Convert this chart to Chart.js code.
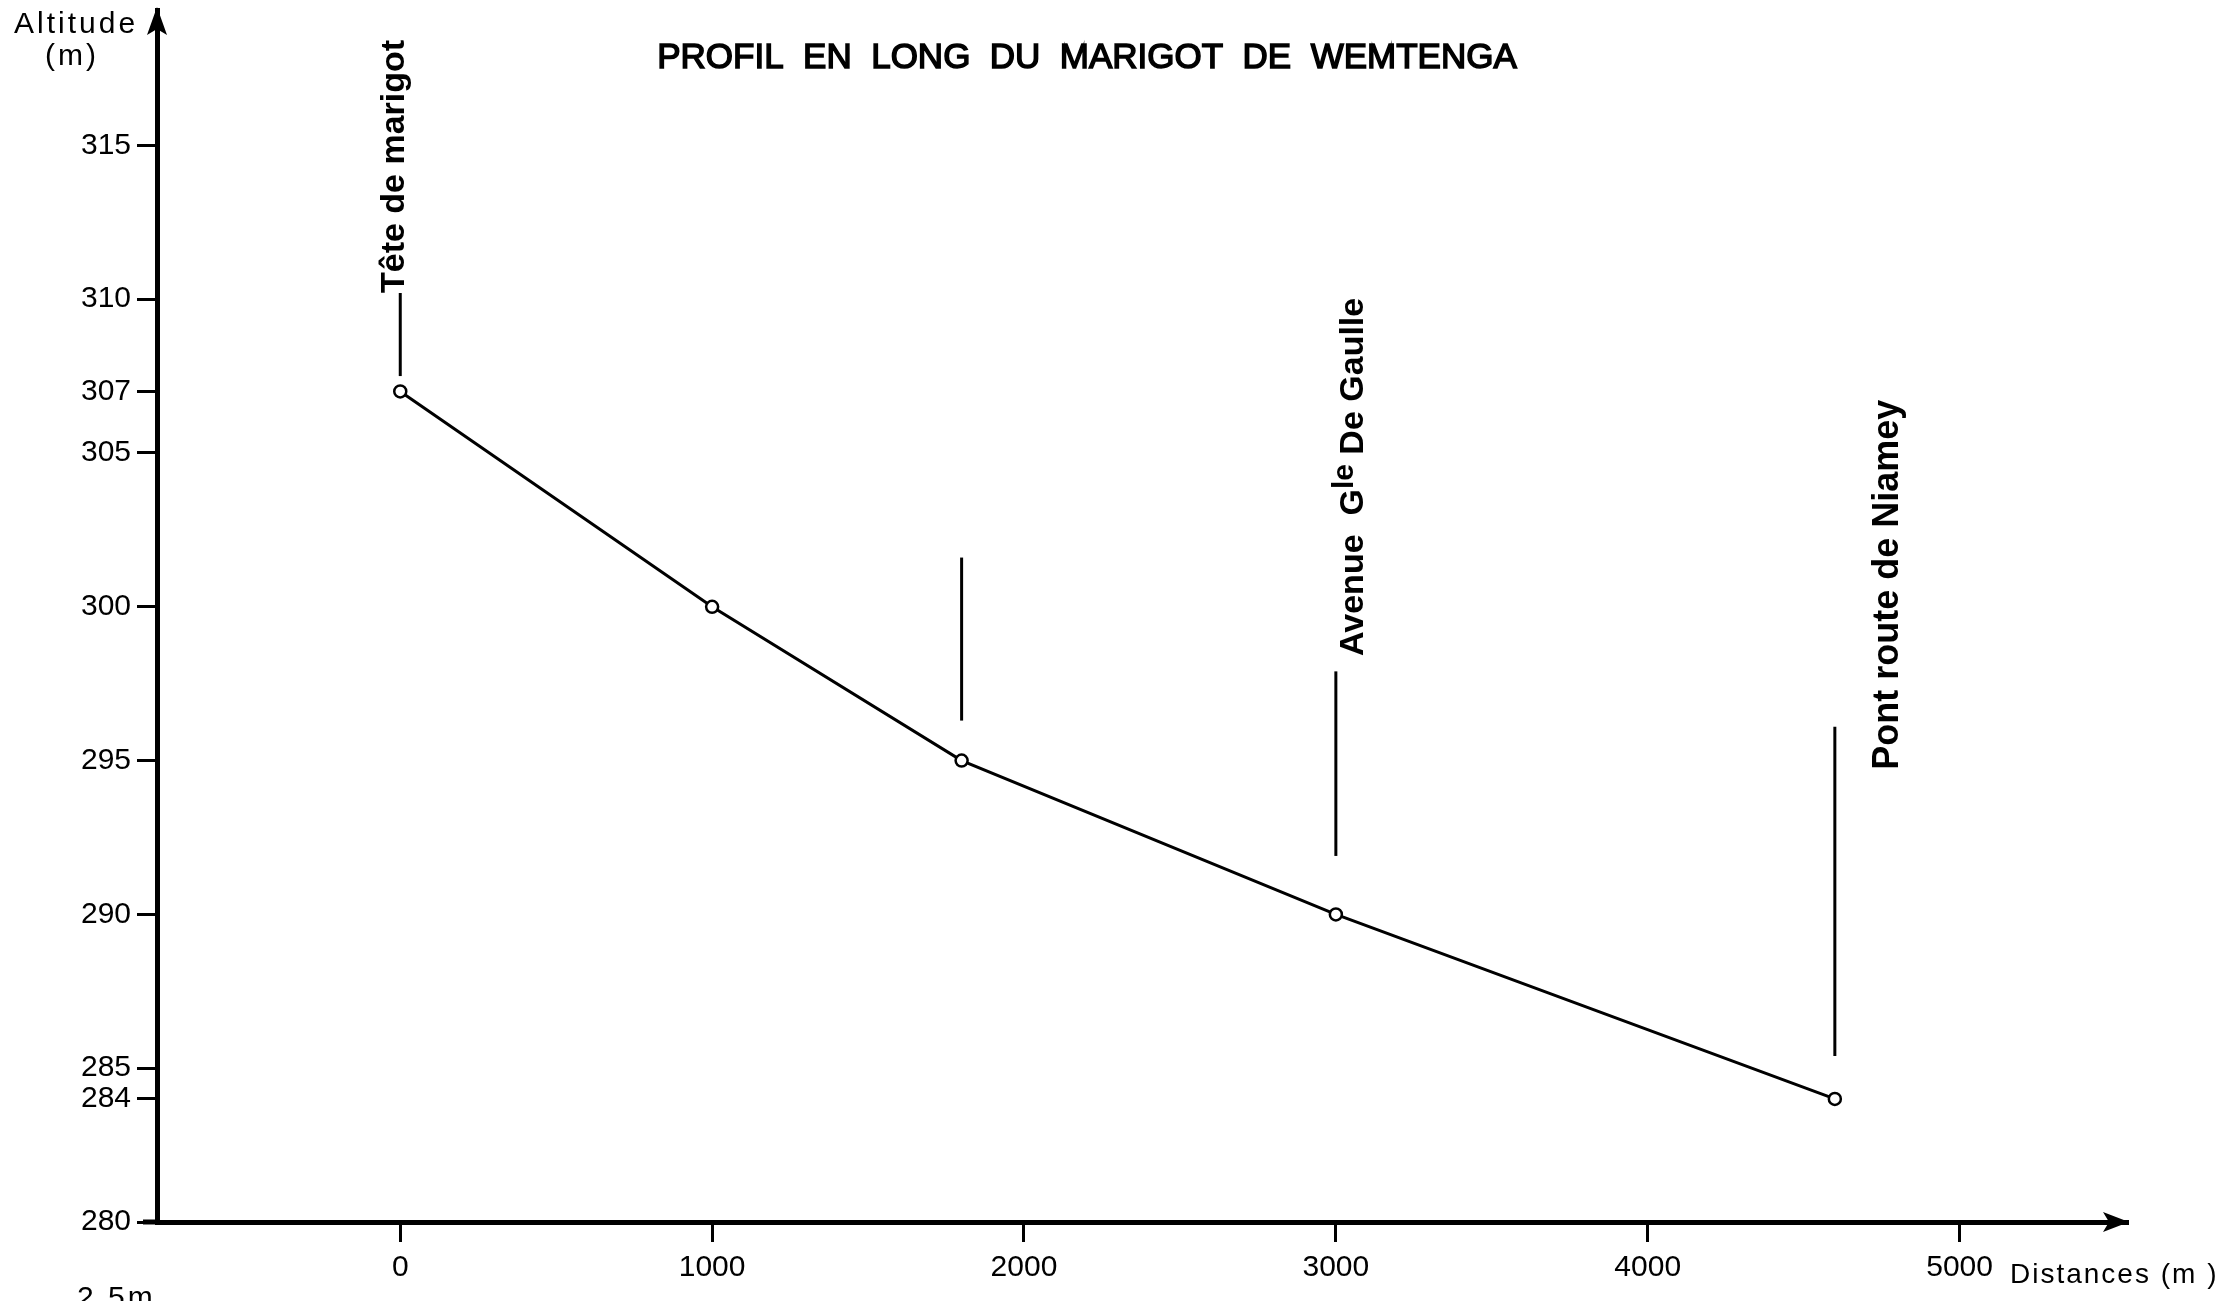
<!DOCTYPE html>
<html><head><meta charset="utf-8">
<script src="https://cdn.jsdelivr.net/npm/chart.js@4.4.1/dist/chart.umd.min.js"></script>
<style>html,body{margin:0;padding:0;background:#fff;}</style>
</head><body>
<canvas id="c" width="2220" height="1301"></canvas>
<script>
// ---- data ----
const distances = [0, 1000, 1800, 3000, 4600];          // m
const altitudes = [307, 300, 295, 290, 284];            // m
const xTickValues = [0, 1000, 2000, 3000, 4000, 5000];
const yTickValues = [280, 284, 285, 290, 295, 300, 305, 307, 310, 315];
const markerX = [0, 1800, 3000, 4600];
const markerTop = [310.2, 301.6, 297.9, 296.1];
const markerBottom = [307.5, 296.3, 291.9, 285.4];
const siteLabelStart = [310.2, null, 298.4, 294.7];
const siteLabelParts = [['Tête de marigot'], [], ['Avenue  G', '^le', ' De Gaulle'], ['Pont route de Niamey']];
const titleText = 'PROFIL  EN  LONG  DU  MARIGOT  DE  WEMTENGA';
const yAxisTitle = ['Altitude', '(m)'];
const xAxisTitle = 'Distances (m )';
const scaleNote = '2,5m .';

Chart.defaults.font.family = 'Liberation Sans';
Chart.defaults.color = '#000';

const decor = {
  id: 'decor',
  afterDraw(chart) {
    const {ctx, chartArea: ca, scales: {x, y}} = chart;
    ctx.save();
    ctx.fillStyle = '#000'; ctx.strokeStyle = '#000';
    // x-axis stub left of origin
    ctx.lineWidth = 5;
    ctx.beginPath(); ctx.moveTo(ca.left - 14, ca.bottom); ctx.lineTo(ca.left, ca.bottom); ctx.stroke();
    // arrowheads
    const ax = ca.left, ay = ca.top;
    ctx.beginPath(); ctx.moveTo(ax, ay - 3); ctx.lineTo(ax + 10, ay + 25); ctx.lineTo(ax, ay + 19); ctx.lineTo(ax - 10, ay + 25); ctx.closePath(); ctx.fill();
    const bx = ca.right, by = ca.bottom;
    ctx.beginPath(); ctx.moveTo(bx + 1, by); ctx.lineTo(bx - 25, by - 10); ctx.lineTo(bx - 19, by); ctx.lineTo(bx - 25, by + 10); ctx.closePath(); ctx.fill();

    // marker lines
    ctx.lineWidth = 3;
    markerX.forEach((mx, i) => {
      const px = x.getPixelForValue(mx);
      ctx.beginPath();
      ctx.moveTo(px, y.getPixelForValue(markerTop[i]));
      ctx.lineTo(px, y.getPixelForValue(markerBottom[i]));
      ctx.stroke();
    });

    // rotated site labels
    const labelOffset = [4, 0, 27, 63];
    const labelSize = [34, 0, 34, 36];
    siteLabelParts.forEach((parts, i) => {
      if (!parts.length) return;
      const px = x.getPixelForValue(markerX[i]) + labelOffset[i];
      const py = y.getPixelForValue(siteLabelStart[i]);
      ctx.save();
      ctx.translate(px, py);
      ctx.rotate(-Math.PI / 2);
      ctx.textAlign = 'left'; ctx.textBaseline = 'alphabetic';
      let cx = 0;
      parts.forEach(p => {
        if (p.startsWith('^')) {
          const t = p.slice(1);
          ctx.font = 'bold ' + (labelSize[i] - 4) + 'px "Liberation Sans"';
          ctx.fillText(t, cx, -10);
          cx += ctx.measureText(t).width;
        } else {
          ctx.font = 'bold ' + labelSize[i] + 'px "Liberation Sans"';
          ctx.fillText(p, cx, 0);
          cx += ctx.measureText(p).width;
        }
      });
      ctx.restore();
    });

    // title
    ctx.font = '35px "Liberation Sans"';
    ctx.textAlign = 'center'; ctx.textBaseline = 'middle';
    ctx.lineWidth = 1.5;
    ctx.fillText(titleText, 1087, 58);
    ctx.strokeText(titleText, 1087, 58);

    // axis titles
    ctx.font = '30px "Liberation Sans"';
    ctx.letterSpacing = '3px';
    ctx.textAlign = 'left';
    ctx.fillText(yAxisTitle[0], 14, 25);
    ctx.fillText(yAxisTitle[1], 45, 57);
    ctx.font = '28px "Liberation Sans"';
    ctx.letterSpacing = '2px';
    ctx.fillText(xAxisTitle, 2010, 1275);
    ctx.font = '30px "Liberation Sans"';
    ctx.letterSpacing = '3px';
    ctx.textBaseline = 'top';
    ctx.fillText(scaleNote, 77, 1284);
    ctx.restore();
  }
};

new Chart(document.getElementById('c'), {
  type: 'scatter',
  data: {
    datasets: [{
      data: distances.map((d, i) => ({x: d, y: altitudes[i]})),
      showLine: true,
      borderColor: '#000',
      borderWidth: 3,
      pointRadius: 6,
      pointBorderWidth: 2.5,
      pointBackgroundColor: '#fff',
      pointBorderColor: '#000',
      tension: 0
    }]
  },
  options: {
    responsive: false,
    animation: false,
    layout: {padding: {left: 0, right: 92, top: 10, bottom: 0}},
    plugins: {legend: {display: false}, title: {display: false}, tooltip: {enabled: false}},
    scales: {
      x: {
        type: 'linear', min: -780, max: 5540,
        afterBuildTicks: s => { s.ticks = xTickValues.map(v => ({value: v})); },
        afterFit: s => { s.height = 79; s.paddingLeft = 0; s.paddingRight = 0; s.paddingTop = 0; s.paddingBottom = 0; },
        border: {display: true, color: '#000', width: 5},
        grid: {drawOnChartArea: false, drawTicks: true, tickLength: 20, tickWidth: 3, color: '#000'},
        ticks: {font: {size: 30}, color: '#000', padding: 8, maxRotation: 0, autoSkip: false, callback: v => String(v)}
      },
      y: {
        type: 'linear', min: 280, max: 319.4,
        afterBuildTicks: s => { s.ticks = yTickValues.map(v => ({value: v})); },
        afterFit: s => { s.width = 157; s.paddingLeft = 0; s.paddingRight = 0; s.paddingTop = 0; s.paddingBottom = 0; },
        border: {display: true, color: '#000', width: 5},
        grid: {drawOnChartArea: false, drawTicks: true, tickLength: 20, tickWidth: 3, color: '#000'},
        ticks: {font: {size: 30}, color: '#000', padding: 6, autoSkip: false, callback: v => String(v)}
      }
    }
  },
  plugins: [decor]
});
</script>
</body></html>
